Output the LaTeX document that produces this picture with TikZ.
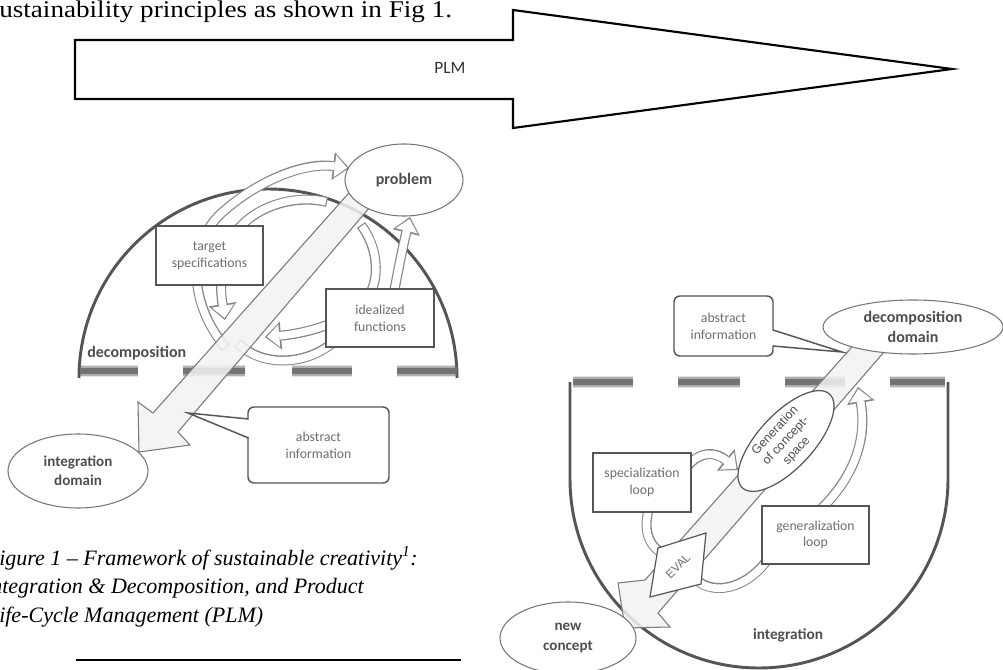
\documentclass[tikz,border=0pt]{standalone}
\usepackage{fontspec}
\setmainfont{Liberation Serif}
\newfontfamily\carl{Carlito}
\newfontfamily\arl{Liberation Sans}
\usetikzlibrary{arrows.meta,shapes.geometric}
\definecolor{arcgray}{HTML}{555555}
\definecolor{dashgray}{HTML}{737373}
\definecolor{loopgray}{HTML}{858585}
\definecolor{boxline}{HTML}{555555}
\definecolor{ellline}{HTML}{777777}
\definecolor{txtgray}{HTML}{6E6E6E}
\definecolor{lblgray}{HTML}{4E4E4E}
\definecolor{shaftfill}{HTML}{F3F3F3}
\definecolor{shaftline}{HTML}{7A7A7A}
\tikzset{
  darkarc/.style={draw=arcgray, line width=2.2pt},
  dashseg/.style={draw=dashgray, line width=5pt,
    preaction={draw=dashgray, line width=7pt, opacity=0.45},
    preaction={draw=dashgray, line width=9.5pt, opacity=0.2}},
  hol/.style={draw=loopgray, line width=7.5pt,
    -{Triangle[length=12pt,width=21pt,line width=0pt]},
    postaction={draw=white, line width=5.7pt, shorten <=0.9pt, shorten >=1.5pt,
      -{Triangle[length=9.2pt,width=16.8pt,line width=0pt]}}},
  holplain/.style={draw=loopgray, line width=7.5pt,
    postaction={draw=white, line width=5.7pt, shorten <=0.9pt, shorten >=0.9pt}},
  shaft/.style={draw=shaftline, line width=0.8pt, fill=shaftfill, fill opacity=0.85, line join=miter},
  sqbox/.style={draw=boxline, line width=1.1pt, fill=white, inner sep=0pt, align=center,
    font=\carl\fontsize{10.3}{12.5}\selectfont, text=txtgray},
  callbox/.style={sqbox, rounded corners=4.5pt},
  oval/.style={ellipse, draw=ellline, line width=0.8pt, fill=white, inner sep=0pt, align=center,
    font=\carl\bfseries\fontsize{12}{14.5}\selectfont, text=lblgray},
  lbl/.style={inner sep=0pt, font=\carl\bfseries\fontsize{12}{14.5}\selectfont, text=lblgray},
  serif/.style={inner sep=0pt, anchor=base west, font=\fontsize{18}{21}\selectfont},
  capt/.style={serif, font=\itshape\fontsize{16.5}{20}\selectfont},
  smalltxt/.style={inner sep=0pt, align=center, font=\arl\fontsize{9.3}{11}\selectfont, text=lblgray}
}
\begin{document}
\begin{tikzpicture}[x=0.75pt,y=-0.75pt]
\useasboundingbox (0,0) rectangle (1003,670);
\clip (0,0) rectangle (1003,670);
\fill[white] (0,0) rectangle (1003,670);

% ---------- top text and PLM arrow ----------
\node[serif, xscale=1.13] (toptext) at (-1,18) {ustainability principles as shown in Fig 1.};
\draw[line width=1.6pt, line join=miter] (75,40) -- (513,40) -- (513,10) -- (952,69) -- (513,128) -- (513,99) -- (75,99) -- cycle;
\node[inner sep=0pt, font=\carl\fontsize{13}{15}\selectfont, text=black!80] (plm) at (450,68) {PLM};

% ---------- left diagram ----------
\draw[darkarc] (79,378) arc[start angle=180, end angle=360, radius=189];
\foreach \a/\b in {80/138,183/245,292/352,397/457} \draw[dashseg] (\a,371) -- (\b,371);

% hollow loops
\draw[hol] (226,348) .. controls (186,300) and (188,240) .. (225,210) .. controls (255,184) and (300,162) .. (349,168);
\draw[hol] (327,202) .. controls (290,193) and (240,210) .. (226,250) .. controls (219,270) and (221,295) .. (225,320);
\draw[hol] (361,225) .. controls (380,250) and (380,285) .. (365,300) .. controls (345,325) and (300,334) .. (265,337);
\draw[holplain] (238,343) .. controls (262,368) and (310,366) .. (338,338);
\draw[hol] (392,302) .. controls (398,272) and (402,250) .. (410,217);

% big arrow
\draw[shaft] (356,185) -- (153,413) -- (138,402) -- (139,452) -- (190,445) -- (178,432) -- (376,200) -- cycle;

\node[oval, minimum width=88.5pt, minimum height=54pt] (problem) at (404,180) {problem};
\node[oval, minimum width=105pt, minimum height=55.5pt, font=\carl\bfseries\fontsize{11.3}{14.5}\selectfont] (intdom) at (78,471) {integration\\domain};
\node[sqbox, minimum width=80.25pt, minimum height=44.25pt] (target) at (209.5,255.5) {target\\specifications};
\node[sqbox, minimum width=81pt, minimum height=43.5pt] (ideal) at (380,318) {idealized\\functions};
\node[callbox, minimum width=105.75pt, minimum height=57pt] (absL) at (318.5,445) {abstract\\information};
\coordinate (absLtip) at (188,413);
\fill[white] (249.5,419.5) -- (absLtip) -- (249.5,437.5) -- cycle;
\draw[boxline, line width=1.1pt] (248.5,419) -- (absLtip) -- (248.5,438);
\node[lbl, anchor=west] (decompL) at (87,353) {decomposition};

% ---------- caption ----------
\node[capt] (cap1) at (-1,565) {igure 1 \textendash\ Framework of sustainable creativity\textsuperscript{1}:};
\node[capt] (cap2) at (-9,593) {ntegration \& Decomposition, and Product};
\node[capt] (cap3) at (-1,622) {ife-Cycle Management (PLM)};
\draw[line width=1.5pt] (76,660) -- (461,660);

% ---------- right diagram ----------
\draw[darkarc] (570,382) -- (570,479) arc[start angle=180, end angle=0, radius=189] -- (948,382);
\foreach \a/\b in {573/633,678/740,785/845,890/945} \draw[dashseg] (\a,382) -- (\b,382);

% hollow loops
\draw[hol] (686,468) .. controls (700,450) and (716,452) .. (738,470);
\draw[holplain] (650,505) .. controls (642,530) and (648,548) .. (668,556);
\draw[holplain] (692,575) .. controls (708,597) and (748,592) .. (772,553);
\draw[hol] (818,512) .. controls (860,472) and (866,432) .. (858,387);

% big arrow
\draw[shaft] (866,331) -- (645,580) -- (618,583) -- (625,628) -- (670,627) -- (658,613) -- (897,337) -- cycle;

\node[oval, minimum width=135pt, minimum height=40.5pt] (decdom) at (913,327) {decomposition\\domain};
\node[oval, minimum width=102pt, minimum height=54pt, font=\carl\bfseries\fontsize{11.3}{14.5}\selectfont] (newc) at (568,638) {new\\concept};
\node[ellipse, draw=boxline, line width=0.9pt, fill=white, minimum width=96pt, minimum height=41pt, inner sep=0pt, rotate=47] (gen) at (786,441) {};
\node[smalltxt, rotate=47] (gentxt) at (gen.center) {Generation\\of concept-\\space};
\draw[boxline, line width=0.9pt, fill=white, line join=miter] (658,548) -- (706,533) -- (701,584) -- (650,597) -- cycle;
\node[smalltxt, rotate=45, font=\arl\fontsize{8.8}{10}\selectfont, text=txtgray] (eval) at (678,566) {EVAL};
\node[sqbox, minimum width=73.5pt, minimum height=44.25pt] (spec) at (642,482.5) {specialization\\loop};
\node[sqbox, minimum width=80.25pt, minimum height=43.5pt] (genl) at (815.5,535) {generalization\\loop};
\node[callbox, minimum width=74.25pt, minimum height=45pt] (absR) at (723.5,326) {abstract\\information};
\coordinate (absRtip) at (842,352);
\fill[white] (772,330.5) -- (absRtip) -- (772,345.5) -- cycle;
\draw[boxline, line width=1.1pt] (773,330) -- (absRtip) -- (773,346);
\node[lbl, font=\carl\bfseries\fontsize{11.5}{14}\selectfont] (integ) at (788,635) {integration};
\end{tikzpicture}
\end{document}
